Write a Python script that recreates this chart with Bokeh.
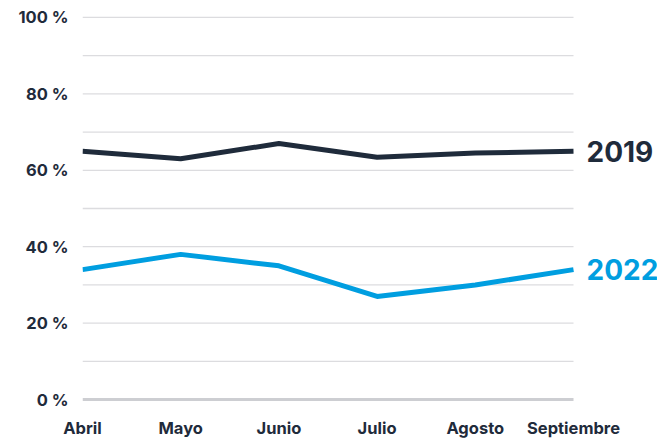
from bokeh.plotting import figure
from bokeh.models import FixedTicker, Range1d
from bokeh.core.properties import value
from bokeh.embed import file_html
from bokeh.resources import INLINE

months = ["Abril", "Mayo", "Junio", "Julio", "Agosto", "Septiembre"]
y2019 = [65, 63, 67, 63.4, 64.5, 65]
y2022 = [34, 38, 35, 27, 30, 34]
series_names = ["2019", "2022"]
y_ticks = [0, 20, 40, 60, 80, 100]
y_tick_labels = ["0 %", "20 %", "40 %", "60 %", "80 %", "100 %"]
grid_ticks = list(range(10, 101, 10))

dark = "#1f2b3b"
blue = "#009ee0"
font = "Inter"

xs = list(range(len(months)))
x_last = xs[-1]
# frame extends right of the last month so the end labels are not clipped
x_end = x_last + 84 / 98.2

p = figure(width=657, height=441, output_backend="svg", toolbar_location=None,
           x_range=Range1d(0, x_end), y_range=Range1d(-0.5, 100.5),
           min_border_left=82, min_border_right=0, min_border_top=15, min_border_bottom=40)
p.outline_line_color = None
p.background_fill_color = "white"
p.xgrid.grid_line_color = None
p.ygrid.grid_line_color = None

# horizontal grid lines spanning only the month range
p.segment(x0=[xs[0]] * len(grid_ticks), x1=[x_last] * len(grid_ticks), y0=grid_ticks, y1=grid_ticks,
          line_color="#dcdcdf", line_width=1.3)
p.segment(x0=[xs[0]], x1=[x_last], y0=[0], y1=[0], line_color="#cdced2", line_width=3)

p.line(xs, y2019, line_color=dark, line_width=5)
p.line(xs, y2022, line_color=blue, line_width=5)

p.text(x=[x_last, x_last], y=[y2019[-1], y2022[-1]], text=series_names,
       text_color=[dark, blue], x_offset=13,
       text_font=value(font), text_font_style="bold", text_font_size="28px",
       text_baseline="middle", text_align="left")

p.xaxis.ticker = FixedTicker(ticks=xs)
p.xaxis.major_label_overrides = {i: m for i, m in enumerate(months)}
p.yaxis.ticker = FixedTicker(ticks=y_ticks)
p.yaxis.major_label_overrides = {t: l for t, l in zip(y_ticks, y_tick_labels)}

for ax in (p.xaxis[0], p.yaxis[0]):
    ax.axis_line_color = None
    ax.major_tick_line_color = None
    ax.minor_tick_line_color = None
    ax.major_label_text_font = font
    ax.major_label_text_font_style = "bold"
    ax.major_label_text_font_size = "16.5px"
    ax.major_label_text_color = dark

p.yaxis.major_label_standoff = 8
p.xaxis.major_label_standoff = 10

open("out.html", "w").write(file_html(p, INLINE))
